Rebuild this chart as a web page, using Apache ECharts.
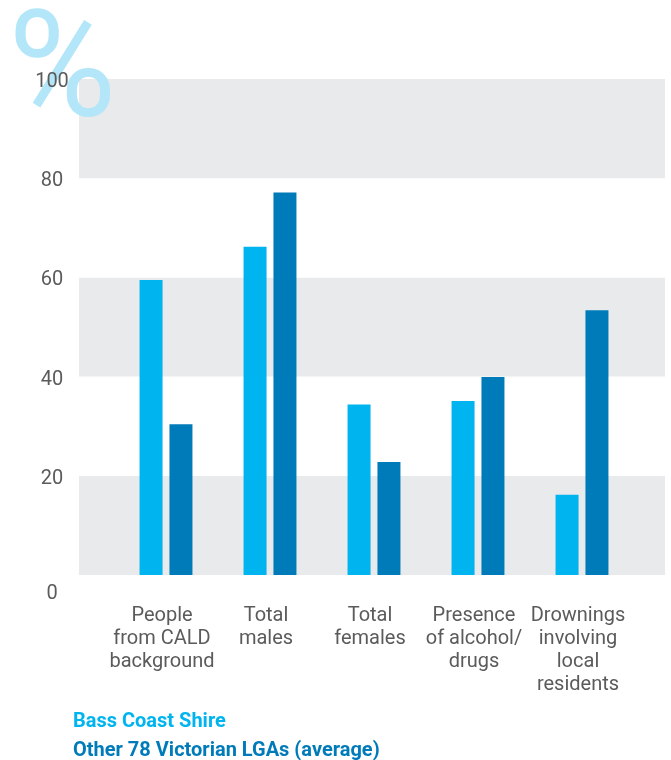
<!DOCTYPE html>
<html>
<head>
<meta charset="utf-8">
<script src="https://cdn.jsdelivr.net/npm/echarts@6/dist/echarts.min.js"></script>
<style>
  html, body { margin: 0; padding: 0; background: #ffffff; }
  #chart { width: 671px; height: 760px; }
</style>
</head>
<body>
<div id="chart"></div>
<script>
// Drowning deaths: share (%) by characteristic
const categories = [
  'People\nfrom CALD\nbackground',
  'Total\nmales',
  'Total\nfemales',
  'Presence\nof alcohol/\ndrugs',
  'Drownings\ninvolving\nlocal\nresidents'
];
const seriesNames = ['Bass Coast Shire', 'Other 78 Victorian LGAs (average)'];
const bassCoast = [59.5, 66.2, 34.4, 35.1, 16.2];
const otherLGAs = [30.4, 77.1, 22.8, 39.9, 53.4];
const yTicks = [0, 20, 40, 60, 80, 100];

const LIGHT = '#00b5ef';
const DARK = '#007bba';
const BAND = '#e9eaec';
const TEXT = '#5b5b5b';
const FONT = 'Roboto, "Noto Sans", sans-serif';

const chart = echarts.init(document.getElementById('chart'), null, { renderer: 'canvas' });

const yMin = yTicks[0];
const yMax = yTicks[yTicks.length - 1];
const yStep = yTicks[1] - yTicks[0];

chart.setOption({
  animation: false,
  backgroundColor: '#ffffff',
  // big unit mark, drawn above the bands but below the tick labels
  graphic: [{
    type: 'text',
    z: 1,
    left: 8,
    top: 4,
    style: {
      text: '%',
      fontFamily: FONT,
      fontWeight: 'normal',
      fontSize: 148,
      fill: '#b3e6f8'
    }
  }],
  legend: {
    orient: 'vertical',
    left: 73,
    top: 712,
    height: 80,
    icon: 'none',
    itemWidth: 0,
    itemHeight: 0,
    itemGap: 9,
    padding: 0,
    selectedMode: false,
    textStyle: { fontFamily: FONT, fontSize: 20, fontWeight: 'bold', padding: [0, 0, 0, -5] },
    data: [
      { name: seriesNames[0], textStyle: { color: LIGHT } },
      { name: seriesNames[1], textStyle: { color: DARK } }
    ]
  },
  grid: [
    { left: 79, right: 6, top: 79, bottom: 185 },
    { left: 114, right: 37, top: 79, bottom: 185 }
  ],
  xAxis: [
    { type: 'value', gridIndex: 0, show: false, min: 0, max: 1 },
    {
      type: 'category',
      gridIndex: 1,
      data: categories,
      axisLine: { show: false },
      axisTick: { show: false },
      axisLabel: {
        interval: 0,
        margin: 29,
        padding: [0, 8, 0, 0],
        fontFamily: FONT,
        fontSize: 20,
        lineHeight: 23,
        color: TEXT
      }
    }
  ],
  yAxis: [
    {
      // background bands across the full plot width
      type: 'value',
      gridIndex: 0,
      z: 0,
      min: yMin,
      max: yMax,
      interval: yStep,
      axisLine: { show: false },
      axisTick: { show: false },
      axisLabel: { show: false },
      splitLine: { show: false },
      splitArea: { show: true, areaStyle: { color: [BAND, '#ffffff'] } }
    },
    {
      // value scale for the bars, carrying the tick labels
      type: 'value',
      gridIndex: 1,
      z: 3,
      min: yMin,
      max: yMax,
      interval: yStep,
      axisLine: { show: false },
      axisTick: { show: false },
      splitLine: { show: false },
      splitArea: { show: false },
      axisLabel: {
        align: 'center',
        margin: 62,
        padding: [6, 0, 0, 0],
        fontFamily: FONT,
        fontSize: 20,
        color: TEXT,
        formatter: v => (v === 0 ? '{z|0}' : String(v)),
        rich: { z: { fontFamily: FONT, fontSize: 20, color: TEXT, padding: [32, 0, 0, 0] } }
      }
    }
  ],
  series: [
    {
      name: seriesNames[0],
      type: 'bar',
      xAxisIndex: 1,
      yAxisIndex: 1,
      z: 2,
      data: bassCoast,
      barWidth: 23,
      barGap: '30%',
      itemStyle: { color: LIGHT }
    },
    {
      name: seriesNames[1],
      type: 'bar',
      xAxisIndex: 1,
      yAxisIndex: 1,
      z: 2,
      data: otherLGAs,
      barWidth: 23,
      barGap: '30%',
      itemStyle: { color: DARK }
    }
  ]
});
</script>
</body>
</html>
